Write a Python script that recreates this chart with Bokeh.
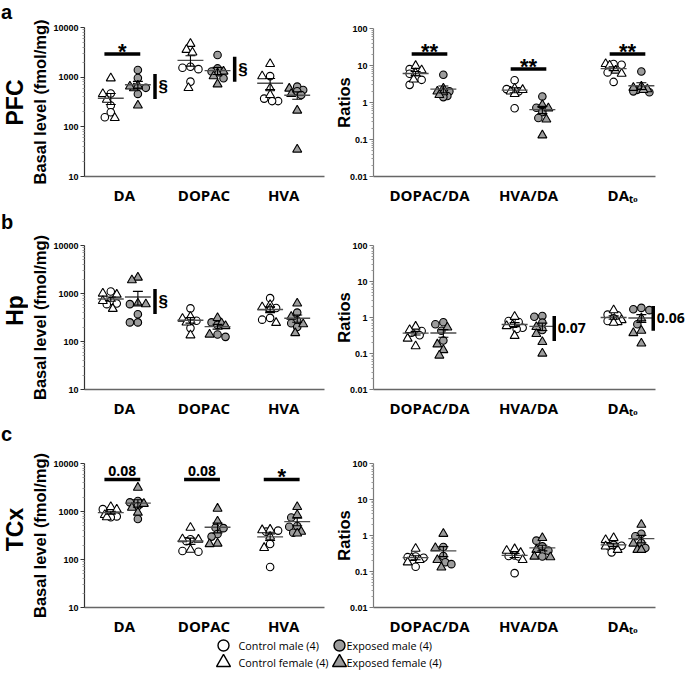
import numpy as np
from bokeh.plotting import figure
from bokeh.layouts import column, row
from bokeh.models import Range1d, FixedTicker, NumeralTickFormatter, Label, ColumnDataSource
from bokeh.core.properties import value
from bokeh.embed import file_html
from bokeh.resources import INLINE

# ---------------- data ----------------
amine_labels = ["DA", "DOPAC", "HVA"]
ratio_labels = ["DOPAC/DA", "HVA/DA", "DA\u209c\u2092"]   # DA with subscript "to"
amine_ticks = [10, 100, 1000, 10000]
ratio_ticks = [0.01, 0.1, 1, 10, 100]
region_names = ["PFC", "Hp", "TCx"]
panel_letters = ["a", "b", "c"]
legend_labels = ["Control male (4)", "Control female (4)", "Exposed male (4)", "Exposed female (4)"]

# each: (control male, control female, exposed male, exposed female)
pfc_da = ([470, 268, 197, 156], [950, 459, 353, 151], [1390, 960, 610, 460], [600, 650, 270, 680])
pfc_dopac = ([1625, 1550, 1450, 813], [4700, 3560, 3150, 607], [2800, 1500, 1300, 950], [1300, 1200, 1050, 720])
pfc_hva = ([1050, 370, 330, 330], [1850, 1050, 600, 440], [645, 552, 520, 438], [590, 459, 213, 35])
pfc_dopac_da = ([8.0, 6.0, 4.1, 3.0], [9.8, 7.5, 6.2, 4.2], [5.6, 2.0, 1.5, 1.4], [2.4, 2.0, 1.9, 1.6])
pfc_hva_da = ([4.0, 2.3, 2.0, 0.70], [2.4, 2.2, 2.0, 1.7], [1.45, 0.72, 0.55, 0.38], [0.86, 0.70, 0.35, 0.13])
pfc_dato = ([11.0, 10.5, 6.5, 3.6], [11.0, 10.0, 7.3, 6.0], [6.9, 2.2, 2.0, 1.9], [2.7, 2.5, 2.3, 2.2])

hp_da = ([1100, 700, 620, 600], [1000, 950, 700, 480], [600, 370, 250, 250], [2150, 1900, 620, 600])
hp_dopac = ([490, 270, 260, 190], [330, 300, 250, 135], [250, 220, 140, 125], [310, 240, 210, 140])
hp_hva = ([800, 500, 310, 285], [580, 520, 480, 245], [400, 270, 240, 200], [620, 330, 230, 150])
hp_dopac_da = ([0.42, 0.40, 0.38, 0.32], [0.56, 0.45, 0.26, 0.16], [0.74, 0.65, 0.43, 0.23], [0.53, 0.18, 0.125, 0.088])
hp_hva_da = ([0.80, 0.75, 0.52, 0.48], [1.05, 0.62, 0.58, 0.31], [1.1, 1.05, 0.72, 0.45], [0.55, 0.35, 0.21, 0.10])
hp_dato = ([1.2, 1.15, 0.95, 0.80], [1.6, 0.85, 0.75, 0.72], [1.85, 1.7, 1.6, 0.65], [0.95, 0.43, 0.37, 0.19])

tcx_da = ([1120, 950, 790, 760], [1250, 1100, 850, 760], [1650, 1550, 1300, 700], [3150, 1450, 1200, 950])
tcx_dopac = ([265, 240, 150, 145], [460, 265, 260, 160], [460, 450, 340, 300], [1150, 620, 215, 210])
tcx_hva = ([400, 380, 210, 70], [420, 410, 300, 175], [750, 500, 480, 360], [1250, 850, 380, 350])
tcx_dopac_da = ([0.26, 0.25, 0.24, 0.135], [0.43, 0.24, 0.21, 0.18], [0.48, 0.27, 0.18, 0.16], [1.12, 0.45, 0.21, 0.13])
tcx_hva_da = ([0.28, 0.27, 0.26, 0.09], [0.42, 0.38, 0.33, 0.21], [0.72, 0.50, 0.38, 0.26], [0.86, 0.40, 0.26, 0.25])
tcx_dato = ([0.55, 0.52, 0.49, 0.34], [0.85, 0.75, 0.50, 0.40], [1.12, 0.95, 0.62, 0.45], [2.0, 0.60, 0.40, 0.40])

# significance annotations: horizontal bars (category, level, text); vertical bars (category, low, high, text)
pfc_amine_hbars = [(0, 2920, "*")]
pfc_amine_vbars = [(0, 365, 1160, "§"), (1, 813, 2580, "§")]
pfc_ratio_hbars = [(0, 20.3, "**"), (1, 8.0, "**"), (2, 20.3, "**")]
hp_amine_vbars = [(0, 372, 1240, "§")]
hp_ratio_vbars = [(1, 0.223, 1.1, "0.07"), (2, 0.43, 2.08, "0.06")]
tcx_amine_hbars = [(0, 4620, "0.08"), (1, 4620, "0.08"), (2, 4620, "*")]

# ---------------- style / layout ----------------
CTRL_FILL = "white"
EXP_FILL = "#9c9c9c"
MEAN_COLOR = "#4d4d4d"
STRIP_W = 28

LEFT = dict(x0=STRIP_W, width=330 - STRIP_W, frame_l=83, frame_r=324, cat0=123, ppx=80.0,
            yr=(10, 10000), ticks=amine_ticks, minor=(1, 4), ylabel="Basal level (fmol/mg)",
            half=0.17, tickpos=[0, 1, 2], labels=amine_labels, hb=(-0.25, 0.2), vrel=0.385,
            ystand=1, axcolor="#333333", extend_right=False)
RIGHT = dict(x0=330, width=685 - 330, frame_l=373, frame_r=655, cat0=429, ppx=99.0,
             yr=(0.01, 100), ticks=ratio_ticks, minor=(-2, 2), ylabel="Ratios",
             half=0.14, tickpos=[0, 1, 1.95], labels=ratio_labels, hb=(-0.18, 0.18), vrel=0.26,
             ystand=-6, axcolor="#7a7a7a", extend_right=True)

# row canvases (top, height), frame tops/heights, region-label centre, letter-box top
ROWS = [dict(top=0, h=210, ft_l=27, fh_l=149, ft_r=28, fh_r=148, reg_y=102, let_top=0),
        dict(top=210, h=210, ft_l=245, fh_l=149, ft_r=245, fh_r=148, reg_y=310, let_top=210),
        dict(top=420, h=218, ft_l=463, fh_l=150, ft_r=463, fh_r=149, reg_y=529, let_top=422)]
LEG_H = 36


def swarm(vals, ppd, ppx, diam=6.5, maxdx=8.0, step=2.0):
    ys = np.log10(np.asarray(vals, dtype=float)) * ppd
    cands = sorted(np.arange(-maxdx, maxdx + 0.01, step), key=lambda c: (abs(c), c))
    order = np.argsort(-ys)
    placed = []
    offs = np.zeros(len(vals))
    for i in order:
        best, bestd = 0.0, -1.0
        for c in cands:
            d = min([np.hypot(c - px, ys[i] - py) for px, py in placed] or [1e9])
            if d >= diam:
                best = c
                break
            if d > bestd + 0.5:
                best, bestd = c, d
        placed.append((best, ys[i]))
        offs[i] = best / ppx
    return offs


def base_figure(**kw):
    f = figure(title=None, output_backend="svg", toolbar_location=None, **kw)
    f.frame_align = False
    f.grid.visible = False
    f.outline_line_color = None
    f.background_fill_color = "white"
    f.border_fill_color = "white"
    return f


def make_panel(cfg, data, rowg, ft, fh, hbars=(), vbars=()):
    w = cfg["width"]
    bl = cfg["frame_l"] - cfg["x0"]
    fr = (cfg["x0"] + w) if cfg["extend_right"] else cfg["frame_r"]
    fw = fr - cfg["frame_l"]
    bt = ft - rowg["top"]
    bb = rowg["h"] - bt - fh
    ppx = cfg["ppx"]
    xr = ((cfg["frame_l"] - cfg["cat0"]) / ppx, (fr - cfg["cat0"]) / ppx)
    axis_end = (cfg["frame_r"] - cfg["cat0"]) / ppx
    p = base_figure(width=w, height=rowg["h"], x_range=Range1d(*xr),
                    y_range=Range1d(*cfg["yr"]), y_axis_type="log",
                    min_border_left=bl, min_border_right=w - bl - fw,
                    min_border_top=bt, min_border_bottom=bb)

    # x axis
    xa = p.xaxis[0]
    xa.bounds = (xr[0], axis_end)
    xa.ticker = FixedTicker(ticks=cfg["tickpos"])
    xa.major_label_overrides = {t: lab for t, lab in zip(cfg["tickpos"], cfg["labels"])}
    xa.major_tick_line_color = None
    xa.minor_tick_line_color = None
    xa.axis_line_color = "#666666"
    xa.axis_line_width = 1.3
    xa.major_label_standoff = 2
    xa.major_label_text_font = "Open Sans"
    xa.major_label_text_font_style = "bold"
    xa.major_label_text_font_size = "15px"
    xa.major_label_text_color = "black"

    # y axis
    lo, hi = cfg["minor"]
    minor = [m * 10.0 ** e for e in range(lo, hi) for m in range(2, 10)]
    ya = p.yaxis[0]
    ya.ticker = FixedTicker(ticks=cfg["ticks"], minor_ticks=minor)
    ya.formatter = NumeralTickFormatter(format="0.[00]")
    ya.axis_line_color = cfg["axcolor"]
    ya.axis_line_width = 1.2
    ya.major_tick_out = 4
    ya.major_tick_in = 0
    ya.major_tick_line_color = cfg["axcolor"]
    ya.minor_tick_out = 2
    ya.minor_tick_in = 0
    ya.minor_tick_line_color = "#9a9a9a"
    ya.major_label_standoff = 2
    ya.major_label_text_font = "Liberation Sans"
    ya.major_label_text_font_style = "bold"
    ya.major_label_text_font_size = "9px"
    ya.major_label_text_color = "black"
    ya.axis_label = cfg["ylabel"]
    ya.axis_label_standoff = cfg["ystand"]
    ya.axis_label_text_font = "Liberation Sans"
    ya.axis_label_text_font_style = "bold"
    ya.axis_label_text_font_size = "16.5px"
    ya.axis_label_text_color = "black"

    ppd = fh / np.log10(cfg["yr"][1] / cfg["yr"][0])
    mean_rows = dict(x0=[], x1=[], y=[])
    sem_rows = dict(x0=[], x1=[], y0=[], y1=[])
    for i, groups in enumerate(data):
        for t, (males, females) in enumerate([(groups[0], groups[1]), (groups[2], groups[3])]):
            vals = np.array(list(males) + list(females), dtype=float)
            offs = swarm(vals, ppd, ppx)
            cx = i + (-1 if t == 0 else 1) * cfg["half"]
            xs = cx + offs
            fill = CTRL_FILL if t == 0 else EXP_FILL
            p.scatter(xs[:4], vals[:4], marker="circle", size=7.5, fill_color=fill,
                      line_color="black", line_width=1.1)
            p.scatter(xs[4:], vals[4:], marker="triangle", size=9, fill_color=fill,
                      line_color="black", line_width=1.1)
            m = vals.mean()
            s = vals.std(ddof=1) / np.sqrt(len(vals))
            hw = 13.0 / ppx
            cw = 5.0 / ppx
            mean_rows["x0"].append(cx - hw); mean_rows["x1"].append(cx + hw); mean_rows["y"].append(m)
            sem_rows["x0"] += [cx, cx - cw, cx - cw]
            sem_rows["x1"] += [cx, cx + cw, cx + cw]
            sem_rows["y0"] += [m - s, m - s, m + s]
            sem_rows["y1"] += [m + s, m - s, m + s]
    p.segment(x0="x0", x1="x1", y0="y", y1="y", source=ColumnDataSource(mean_rows),
              line_color=MEAN_COLOR, line_width=1.4)
    p.segment(x0="x0", x1="x1", y0="y0", y1="y1", source=ColumnDataSource(sem_rows),
              line_color="black", line_width=1.1)

    def shift(v, px):  # move a log-scale value up by px pixels
        return v * 10 ** (px / ppd)

    # significance bars
    h0, h1 = cfg["hb"]
    for cat, lvl, txt in hbars:
        p.segment(x0=[cat + h0], x1=[cat + h1], y0=[lvl], y1=[lvl], line_color="black", line_width=3.5)
        if txt.startswith("*"):
            p.add_layout(Label(x=cat + (h0 + h1) / 2, y=shift(lvl, 3), text=txt, text_align="center",
                               text_baseline="middle", text_font="Liberation Sans",
                               text_font_style="bold", text_font_size="22px", text_color="black"))
        else:
            p.add_layout(Label(x=cat + (h0 + h1) / 2, y=shift(lvl, 9), text=txt, text_align="center",
                               text_baseline="middle", text_font="Open Sans", text_font_style="bold",
                               text_font_size="14px", text_color="black"))
    for cat, y0, y1, txt in vbars:
        xv = cat + cfg["vrel"]
        p.segment(x0=[xv], x1=[xv], y0=[y0], y1=[y1], line_color="black", line_width=3.5)
        ym = np.sqrt(y0 * y1)
        if txt == "§":
            p.add_layout(Label(x=xv + 3.5 / ppx, y=ym, text=txt, text_align="left",
                               text_baseline="middle", text_font="Liberation Sans",
                               text_font_style="bold", text_font_size="17px", text_color="black"))
        else:
            p.add_layout(Label(x=xv + 3.5 / ppx, y=ym, text=txt, text_align="left",
                               text_baseline="middle", text_font="Open Sans",
                               text_font_style="bold", text_font_size="14px", text_color="black"))
    return p


LETTER_PX = 20


def make_strip(rowg, region, letter):
    h = rowg["h"]
    s = base_figure(width=STRIP_W, height=h, x_range=Range1d(0, STRIP_W),
                    y_range=Range1d(0, h), min_border=0, x_axis_location=None, y_axis_location=None)
    # letter: centre of its text box placed so that the box top sits at let_top
    let_mid = (rowg["let_top"] - rowg["top"]) + 1.117 * LETTER_PX / 2
    s.text(x=[0.5], y=[h - let_mid], text=[letter],
           text_font=value("Liberation Sans"), text_font_style="bold",
           text_font_size=value(f"{LETTER_PX}px"),
           text_baseline="middle", text_align="left", text_color="black")
    s.text(x=[STRIP_W / 2], y=[h - (rowg["reg_y"] - rowg["top"])], text=[region], angle=np.pi / 2,
           text_font=value("Liberation Sans"), text_font_style="bold", text_font_size=value("23px"),
           text_baseline="middle", text_align="center", text_color="black")
    return s


amine_sets = [(pfc_da, pfc_dopac, pfc_hva), (hp_da, hp_dopac, hp_hva), (tcx_da, tcx_dopac, tcx_hva)]
ratio_sets = [(pfc_dopac_da, pfc_hva_da, pfc_dato), (hp_dopac_da, hp_hva_da, hp_dato),
              (tcx_dopac_da, tcx_hva_da, tcx_dato)]
amine_h = [pfc_amine_hbars, [], tcx_amine_hbars]
amine_v = [pfc_amine_vbars, hp_amine_vbars, []]
ratio_h = [pfc_ratio_hbars, [], []]
ratio_v = [[], hp_ratio_vbars, []]

rows = []
for r, geo in enumerate(ROWS):
    strip = make_strip(geo, region_names[r], panel_letters[r])
    left = make_panel(LEFT, amine_sets[r], geo, geo["ft_l"], geo["fh_l"],
                      hbars=amine_h[r], vbars=amine_v[r])
    right = make_panel(RIGHT, ratio_sets[r], geo, geo["ft_r"], geo["fh_r"],
                       hbars=ratio_h[r], vbars=ratio_v[r])
    rows.append(row(strip, left, right))

# ---------------- legend ----------------
LW = 685
leg = base_figure(width=LW, height=LEG_H, x_range=Range1d(0, LW), y_range=Range1d(0, LEG_H),
                  min_border=0, x_axis_location=None, y_axis_location=None)
col_x = [223, 339]
txt_dx = [15, 7]
leg_top = ROWS[-1]["top"] + ROWS[-1]["h"]
row_y = [LEG_H - (645 - leg_top), LEG_H - (662 - leg_top)]
lsrc = ColumnDataSource(dict(
    x=[col_x[i // 2] for i in range(4)],
    y=[row_y[i % 2] for i in range(4)],
    tx=[col_x[i // 2] + txt_dx[i // 2] for i in range(4)],
    marker=["circle", "triangle", "circle", "triangle"],
    size=[11, 14, 11, 14],
    fill=[CTRL_FILL, CTRL_FILL, EXP_FILL, EXP_FILL],
    label=legend_labels,
))
leg.scatter(x="x", y="y", marker="marker", size="size", fill_color="fill", line_color="black",
            line_width=1.4, source=lsrc)
leg.text(x="tx", y="y", text="label", source=lsrc, text_font=value("Open Sans"),
         text_font_size=value("10.8px"), text_baseline="middle", text_align="left", text_color="black")

layout = column(*rows, leg)
open("out.html", "w").write(file_html(layout, INLINE))
